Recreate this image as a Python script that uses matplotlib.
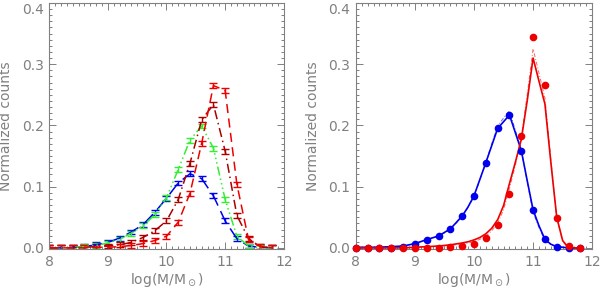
import numpy as np
import matplotlib
matplotlib.use("Agg")
import matplotlib.pyplot as plt
from matplotlib.ticker import MultipleLocator
from matplotlib.transforms import ScaledTranslation

plt.rcParams['mathtext.default'] = 'regular'

# mass bins (log M/Msun)
mass = [8.0, 8.2, 8.4, 8.6, 8.8, 9.0, 9.2, 9.4, 9.6, 9.8,
        10.0, 10.2, 10.4, 10.6, 10.8, 11.0, 11.2, 11.4, 11.6, 11.8]

# left panel: four histograms with errors
blue_l = [0.0, 0.0, 0.001, 0.002, 0.005, 0.009, 0.016, 0.026, 0.038, 0.058,
          0.081, 0.106, 0.121, 0.113, 0.085, 0.044, 0.015, 0.003, 0.001, 0.0]
green_l = [0.0, 0.0, 0.001, 0.002, 0.004, 0.008, 0.014, 0.024, 0.036, 0.054,
           0.082, 0.128, 0.176, 0.199, 0.163, 0.079, 0.019, 0.003, 0.0, 0.0]
dred_l = [0.0, 0.0, 0.0, 0.001, 0.002, 0.003, 0.005, 0.009, 0.017, 0.028,
          0.044, 0.079, 0.138, 0.209, 0.234, 0.158, 0.053, 0.015, 0.002, 0.0]
red_l = [0.0, 0.0, 0.0, 0.0, 0.001, 0.001, 0.002, 0.004, 0.007, 0.012,
         0.019, 0.042, 0.089, 0.171, 0.265, 0.257, 0.104, 0.013, 0.002, 0.0]
err_l = [0.004] * len(mass)

# right panel: data points
blue_pts = [0.0, 0.0, 0.0, 0.0, 0.002, 0.007, 0.0135, 0.0195, 0.031, 0.052,
            0.085, 0.139, 0.195, 0.217, 0.159, 0.062, 0.014, 0.002, 0.0, 0.0]
red_pts = [0.0, 0.0, 0.0, 0.0, 0.0, 0.0, 0.0, 0.0, 0.002, 0.003,
           0.006, 0.016, 0.038, 0.088, 0.183, 0.345, 0.266, 0.048, 0.003, 0.0]

# right panel: models (finer grid)
model_x = [8.0, 8.4, 8.8, 9.0, 9.2, 9.4, 9.6, 9.8, 9.9, 10.0, 10.1, 10.2, 10.3,
           10.4, 10.5, 10.6, 10.7, 10.8, 10.9, 11.0, 11.1, 11.2, 11.3, 11.4,
           11.5, 11.6, 11.8]
blue_mod = [0.001, 0.001, 0.003, 0.007, 0.0135, 0.0195, 0.031, 0.052, 0.067, 0.085,
            0.112, 0.139, 0.167, 0.195, 0.206, 0.217, 0.188, 0.159, 0.11, 0.062,
            0.036, 0.014, 0.006, 0.002, 0.001, 0.0, 0.0]
blue_mod2 = [0.001, 0.001, 0.003, 0.007, 0.013, 0.019, 0.030, 0.051, 0.066, 0.084,
             0.111, 0.140, 0.170, 0.199, 0.212, 0.224, 0.192, 0.160, 0.108, 0.058,
             0.033, 0.012, 0.005, 0.002, 0.001, 0.0, 0.0]
red_mod = [0.0, 0.0, 0.0, 0.001, 0.002, 0.003, 0.005, 0.008, 0.010, 0.013,
           0.017, 0.023, 0.032, 0.046, 0.069, 0.105, 0.14, 0.177, 0.24, 0.31,
           0.272, 0.235, 0.14, 0.05, 0.012, 0.0, 0.0]
red_mod2 = [0.0, 0.0, 0.0, 0.001, 0.002, 0.003, 0.004, 0.006, 0.008, 0.010,
            0.014, 0.019, 0.028, 0.040, 0.062, 0.097, 0.135, 0.180, 0.25, 0.325,
            0.285, 0.245, 0.145, 0.05, 0.01, 0.0, 0.0]

yticks = [0.0, 0.1, 0.2, 0.3, 0.4]
ytick_labels = ['0.0', '0.1', '0.2', '0.3', '0.4']

GREY = '#808080'
BLUE = '#0000ee'
GREEN = '#33ee33'
DRED = '#aa0000'
RED = '#ee0000'


def style_axes(ax, fig):
    ax.set_xlim(8, 12)
    ax.set_ylim(-0.002, 0.4)
    ax.xaxis.set_major_locator(MultipleLocator(1))
    ax.xaxis.set_minor_locator(MultipleLocator(0.1))
    ax.set_yticks(yticks)
    ax.set_yticklabels(ytick_labels)
    ax.yaxis.set_minor_locator(MultipleLocator(0.01))
    ax.tick_params(which='both', direction='in', top=True, right=True,
                   color=GREY, labelcolor=GREY, labelsize=10, width=0.7)
    ax.tick_params(which='major', length=5, pad=4)
    ax.tick_params(which='minor', length=2.5)
    for s in ax.spines.values():
        s.set_color(GREY)
        s.set_linewidth(0.8)
    # top label sits a little lower so it is not cut off
    top = ax.get_yticklabels()[-1]
    top.set_transform(top.get_transform() + ScaledTranslation(0, -4 / 72, fig.dpi_scale_trans))
    ax.set_xlabel(r'log(M/M$_\odot$)', color=GREY, fontsize=10, labelpad=2)
    ax.set_ylabel('Normalized counts', color=GREY, fontsize=10, labelpad=6)


fig = plt.figure(figsize=(6, 2.9), dpi=100)
ax1 = fig.add_axes([0.082, 0.141, 0.391, 0.849])
ax2 = fig.add_axes([0.593, 0.141, 0.394, 0.849])

# left panel
series = [
    (blue_l, BLUE, (0, (9, 4))),
    (green_l, GREEN, (0, (6, 2, 1, 2, 1, 2, 1, 2))),
    (dred_l, DRED, (0, (6, 2.5, 1, 2.5))),
    (red_l, RED, (0, (6, 3.5))),
]
for vals, col, ls in series:
    ax1.errorbar(mass, vals, yerr=err_l, color=col, ls=ls, lw=1.1,
                 elinewidth=1.0, capsize=3, capthick=1.0)
style_axes(ax1, fig)

# right panel
ax2.plot(model_x, blue_mod2, color=BLUE, lw=0.7, ls=(0, (4, 2, 1, 2)), alpha=0.6)
ax2.plot(model_x, red_mod2, color=RED, lw=0.7, ls=(0, (4, 2, 1, 2)), alpha=0.6)
ax2.plot(model_x, blue_mod, color=BLUE, lw=1.2)
ax2.plot(model_x, red_mod, color=RED, lw=1.2)
ax2.plot(mass, blue_pts, 'o', color=BLUE, ms=5.5, mec='none', clip_on=False, zorder=5)
ax2.plot(mass, red_pts, 'o', color=RED, ms=5.5, mec='none', clip_on=False, zorder=5)
style_axes(ax2, fig)

fig.savefig('out.png', dpi=100)
